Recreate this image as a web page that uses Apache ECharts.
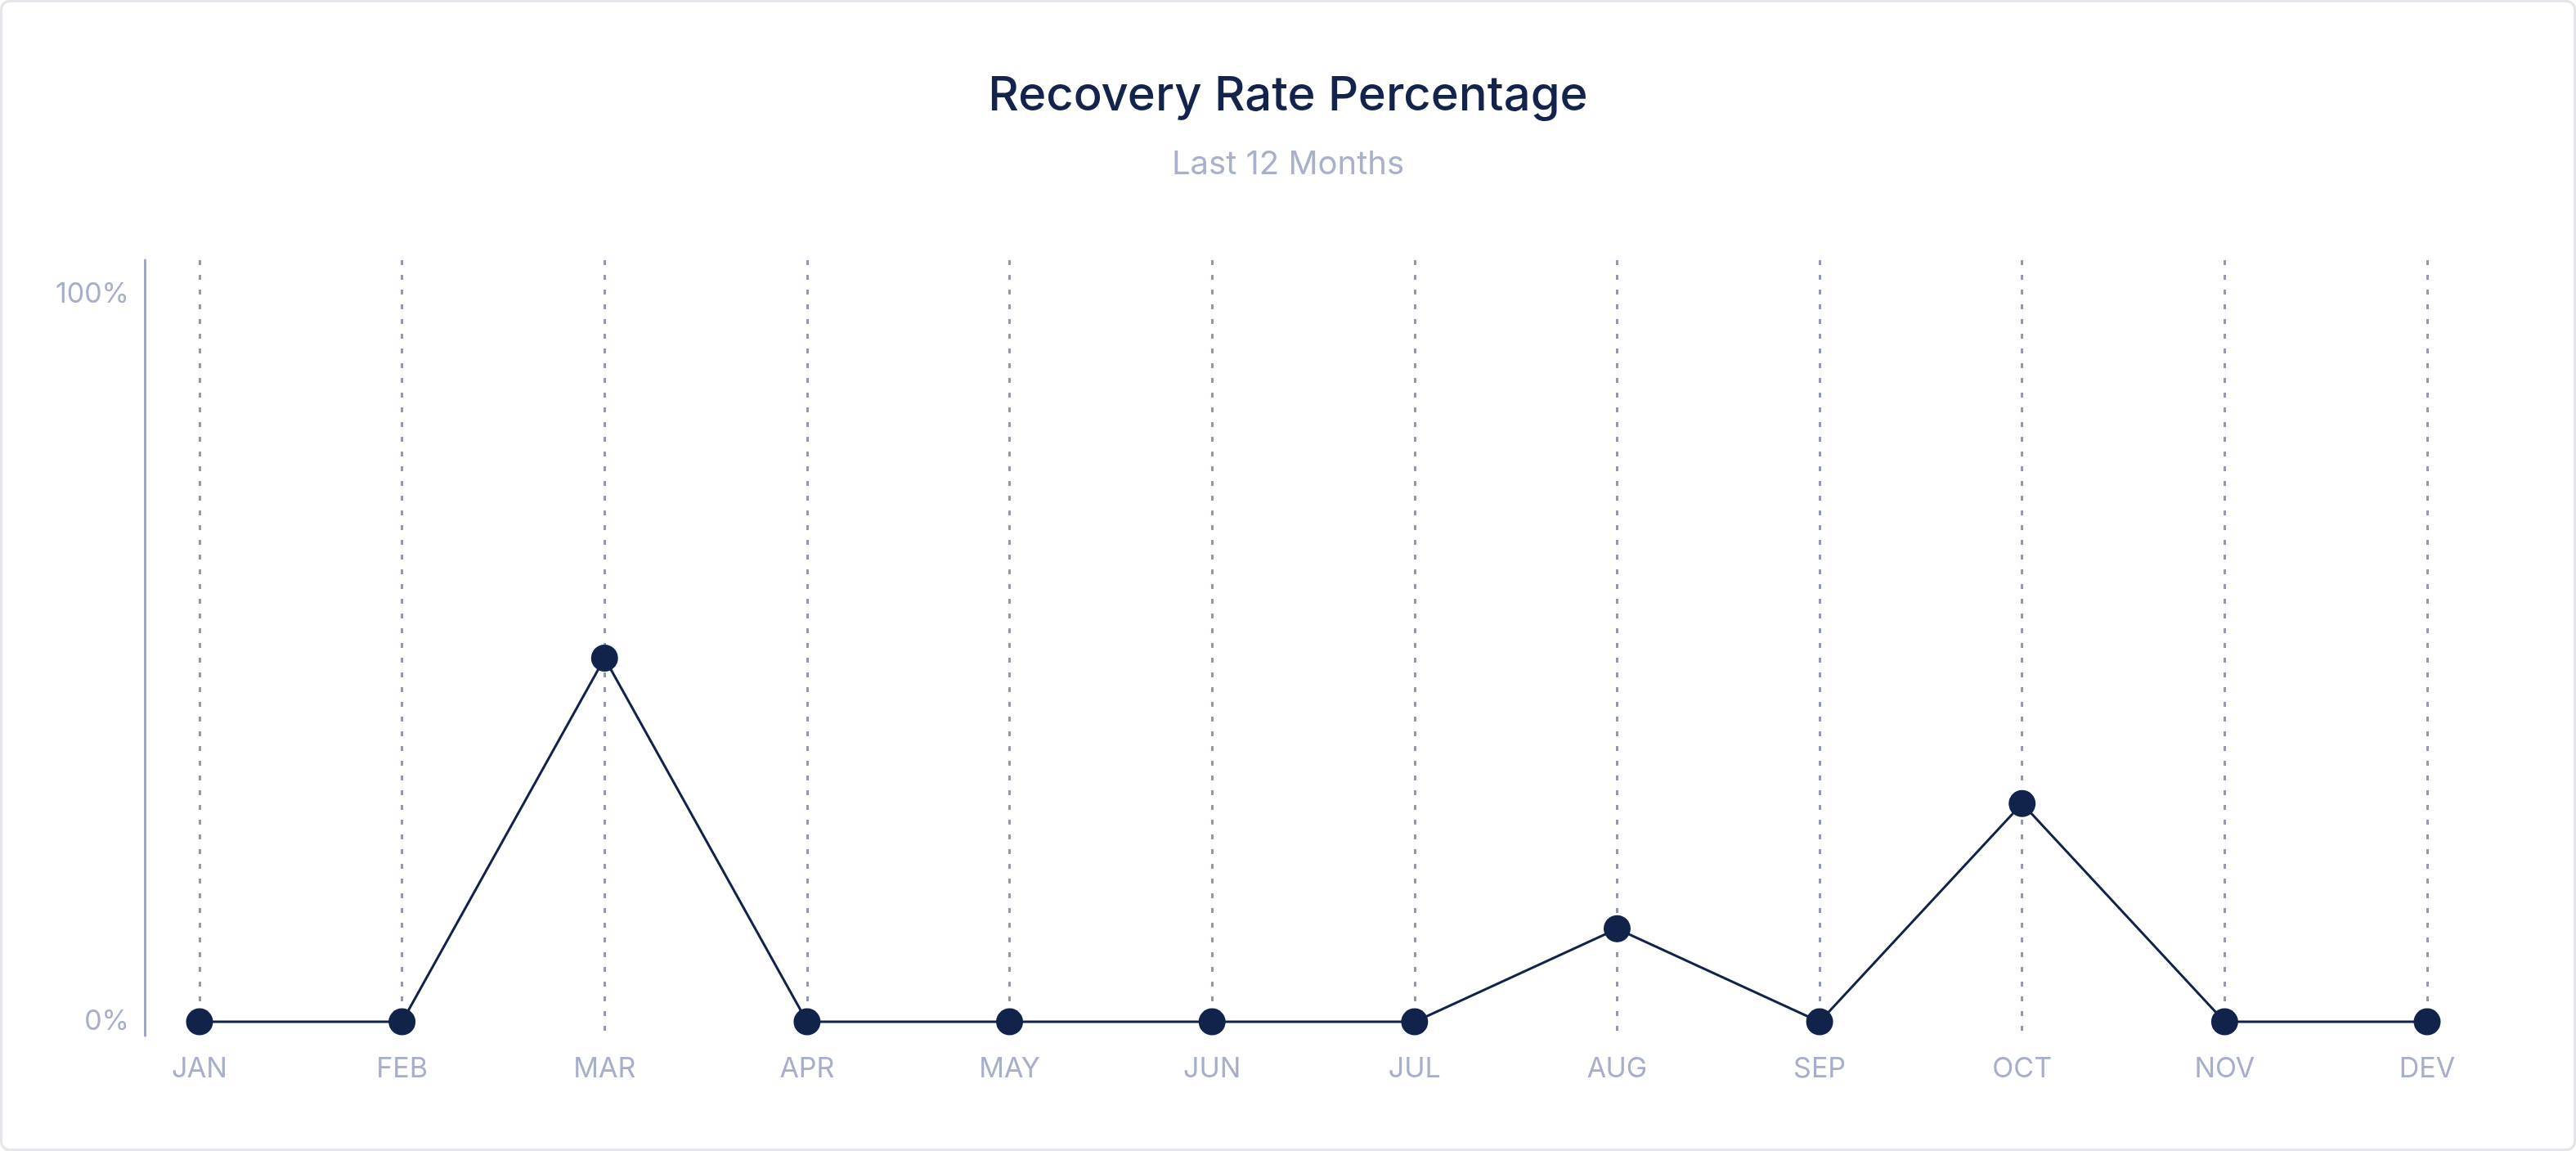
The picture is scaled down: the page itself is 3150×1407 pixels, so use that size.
<!DOCTYPE html>
<html>
<head>
<meta charset="utf-8">
<script src="https://cdn.jsdelivr.net/npm/echarts@6/dist/echarts.min.js"></script>
<style>
html,body{margin:0;padding:0;background:#fff;}
#c{width:3150px;height:1407px;}
</style>
</head>
<body>
<div id="c"></div>
<script>
const months = ['JAN','FEB','MAR','APR','MAY','JUN','JUL','AUG','SEP','OCT','NOV','DEV'];
const recoveryRate = [0, 0, 50, 0, 0, 0, 0, 12.8, 0, 30, 0, 0];
const yTickValues = [0, 100];
const titleText = 'Recovery Rate Percentage';
const subtitleText = 'Last 12 Months';

const chart = echarts.init(document.getElementById('c'));
chart.setOption({
  backgroundColor: '#ffffff',
  animation: false,
  graphic: [{
    type: 'rect',
    shape: {x: 1.5, y: 1.5, width: 3147, height: 1404, r: 10},
    style: {fill: 'none', stroke: '#e4e4ea', lineWidth: 3},
    silent: true
  }],
  title: [{
    text: titleText,
    left: 'center',
    top: 84,
    textStyle: {fontFamily: 'Inter', fontSize: 58, fontWeight: 500, color: '#13234b'}
  }, {
    text: subtitleText,
    left: 'center',
    top: 176,
    textStyle: {fontFamily: 'Inter', fontSize: 40, fontWeight: 400, color: '#a8b0cb'}
  }],
  grid: {left: 244, right: 182, top: 318, bottom: 141, containLabel: false},
  xAxis: {
    type: 'category',
    data: months,
    boundaryGap: false,
    axisLine: {show: false},
    axisTick: {show: false},
    axisLabel: {color: '#a6aec9', fontFamily: 'Inter', fontSize: 34, margin: 24},
    splitLine: {show: true, lineStyle: {color: '#8f98b5', width: 3, type: [6, 12]}}
  },
  yAxis: {
    type: 'value',
    min: -1.9,
    max: 104.7,
    offset: 67,
    axisLine: {show: true, lineStyle: {color: '#9ea6c2', width: 3}},
    axisTick: {show: false},
    splitLine: {show: false},
    axisLabel: {
      customValues: yTickValues,
      color: '#a6aec9', fontFamily: 'Inter', fontSize: 34, margin: 19,
      formatter: function (v) { return yTickValues.indexOf(v) >= 0 ? v + '%' : ''; }
    }
  },
  series: [{
    type: 'line',
    data: recoveryRate,
    symbol: 'circle',
    symbolSize: 33,
    itemStyle: {color: '#12234b'},
    lineStyle: {color: '#12234b', width: 3}
  }]
});
</script>
</body>
</html>
